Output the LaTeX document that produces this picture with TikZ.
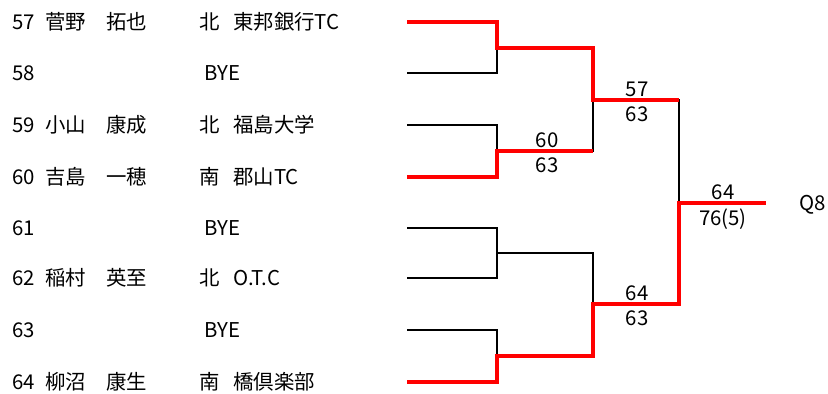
\documentclass[tikz,border=0pt]{standalone}
\usepackage{fontspec}
\setmainfont{Noto Sans CJK JP}
\usetikzlibrary{calc}

\begin{document}
\begin{tikzpicture}[x=0.025cm, y=-0.025cm,
			entry/.style={
			anchor=base west,
			inner sep=0pt,
			font=\fontsize{14.5pt}{17pt}\selectfont,
		}, score/.style={
			anchor=base,
			inner sep=0pt,
			font=\fontsize{14.5pt}{17pt}\selectfont,
		}, lost/.style={
			draw=black,
			line width=0.07cm,
			line join=miter,
		}, won/.style={
			draw=red,
			line width=0.105cm,
			line join=miter,
		}, ]

\useasboundingbox (0,0) rectangle (828,394);

% -------- players --------- %
\draw
(12,29.5) node[entry](num57){57}
(45,29.5) node[entry](name57){菅野　拓也}
(199,29.5) node[entry](area57){北}
(233,29.5) node[entry](club57){東邦銀行TC}
(12,80.5) node[entry](num58){58}
(204,80.5) node[entry](club58){BYE}
(12,132.5) node[entry](num59){59}
(45,132.5) node[entry](name59){小山　康成}
(199,132.5) node[entry](area59){北}
(233,132.5) node[entry](club59){福島大学}
(12,184.5) node[entry](num60){60}
(45,184.5) node[entry](name60){吉島　一穂}
(199,184.5) node[entry](area60){南}
(233,184.5) node[entry](club60){郡山TC}
(12,235.5) node[entry](num61){61}
(204,235.5) node[entry](club61){BYE}
(12,285.5) node[entry](num62){62}
(45,285.5) node[entry](name62){稲村　英至}
(199,285.5) node[entry](area62){北}
(233,285.5) node[entry](club62){O.T.C}
(12,337.5) node[entry](num63){63}
(204,337.5) node[entry](club63){BYE}
(12,389.5) node[entry](num64){64}
(45,389.5) node[entry](name64){柳沼　康生}
(199,389.5) node[entry](area64){南}
(233,389.5) node[entry](club64){橋倶楽部}
;

% -------- bracket --------- %
\coordinate (s57) at (407,22);
\coordinate (s58) at (407,73);
\coordinate (s59) at (407,125);
\coordinate (s60) at (407,177);
\coordinate (s61) at (407,228);
\coordinate (s62) at (407,278);
\coordinate (s63) at (407,330);
\coordinate (s64) at (407,382);
\coordinate (r1a) at (497,48);
\coordinate (r1b) at (497,151);
\coordinate (r1c) at (497,253);
\coordinate (r1d) at (497,356);
\coordinate (r2a) at (593,100);
\coordinate (r2b) at (593,304);
\coordinate (final) at (679,203);
\coordinate (winner) at (766,203);

\draw[lost] (s57) -| (r1a) (s58) -| (r1a);
\draw[lost] (s59) -| (r1b) (s60) -| (r1b);
\draw[lost] (s61) -| (r1c) (s62) -| (r1c);
\draw[lost] (s63) -| (r1d) (s64) -| (r1d);
\draw[lost] (r1a) -| (r2a) (r1b) -| (r2a);
\draw[lost] (r1c) -| (r2b) (r1d) -| (r2b);
\draw[lost] (r2a) -| (final) (r2b) -| (final);

\draw[won] (s57) -| (r1a) -| (r2a) -- (r2a -| final);
\draw[won] (s60) -| (r1b) -- (r1b -| r2a);
\draw[won] (s64) -| (r1d) -| (r2b) -| (final) -- (winner);

% -------- scores --------- %
\draw
(547,147) node[score](win1b){60}
(547,172) node[score](res1b){63}
(637,96) node[score](win2a){57}
(637,121) node[score](res2a){63}
(637,300) node[score](win2b){64}
(637,325) node[score](res2b){63}
(723,199) node[score](winf){64}
(723,225) node[score](resf){76(5)}
(799,210) node[entry](slot){Q8}
;

\end{tikzpicture}
\end{document}
